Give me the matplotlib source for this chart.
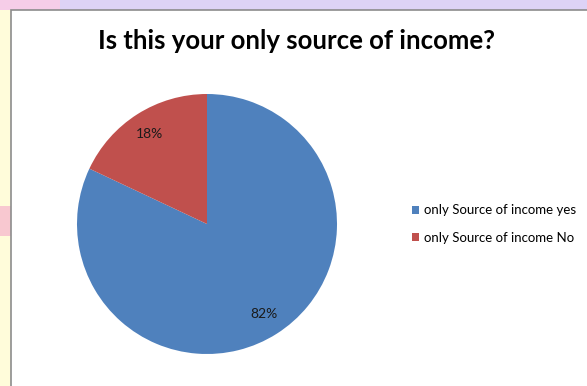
import matplotlib
matplotlib.use('Agg')
import matplotlib.pyplot as plt
from matplotlib.patches import Rectangle, Patch

labels = ['only Source of income yes', 'only Source of income No']
shares = [82, 18]
colors = ['#4F81BD', '#C0504D']
title = 'Is this your only source of income?'

plt.rcParams['font.family'] = ['Lato', 'DejaVu Sans']

W, H = 587, 386
fig = plt.figure(figsize=(W / 100, H / 100), dpi=100)

# slide background peeking around the chart frame
fig.patches.append(Rectangle((0, 0), 1, 1, transform=fig.transFigure,
                             facecolor='#FFFCDA', edgecolor='none', zorder=-3))
fig.patches.append(Rectangle((0, 1 - 10 / H), 1, 10 / H, transform=fig.transFigure,
                             facecolor='#DDD3F6', edgecolor='none', zorder=-2))
fig.patches.append(Rectangle((0, 1 - 10 / H), 60 / W, 10 / H, transform=fig.transFigure,
                             facecolor='#F6CDE8', edgecolor='none', zorder=-2))
fig.patches.append(Rectangle((0, 150 / H), 11 / W, 30 / H, transform=fig.transFigure,
                             facecolor='#F8C8D0', edgecolor='none', zorder=-2))
# chart area with grey frame
fig.patches.append(Rectangle((11 / W, -0.01), 1, 1 - 10 / H + 0.01, transform=fig.transFigure,
                             facecolor='white', edgecolor='#8C8C8C', linewidth=1.2, zorder=-1))

cx, cy, r = 207, 224, 130
ax = fig.add_axes([(cx - r) / W, (H - cy - r) / H, 2 * r / W, 2 * r / H])
wedges, _, autotexts = ax.pie(shares, colors=colors, startangle=90, counterclock=False,
                              autopct='%1.0f%%', pctdistance=0.82, radius=1,
                              textprops={'fontsize': 10, 'color': '#1A1A1A'})
ax.set_xlim(-1, 1)
ax.set_ylim(-1, 1)
ax.set_aspect('equal')
ax.axis('off')

fig.text(297 / W, 1 - 41 / H, title, ha='center', va='center',
         fontsize=18.5, fontweight='bold', color='black')

handles = [Patch(facecolor=c, edgecolor='none') for c in colors]
fig.legend(handles, labels, loc='center left', bbox_to_anchor=(400 / W, 1 - 224 / H),
           frameon=False, fontsize=9.5, handlelength=0.55, handleheight=0.55,
           handletextpad=0.35, labelspacing=1.15)

fig.savefig('out.png', dpi=100)
